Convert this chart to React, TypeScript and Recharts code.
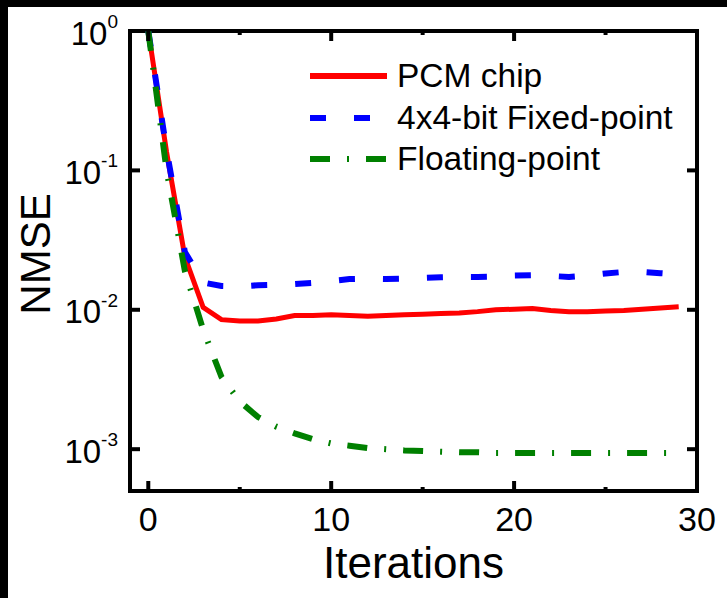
import { LineChart, Line, XAxis, YAxis, Legend, ReferenceArea } from 'recharts'

const FONT = '"Liberation Sans", Arial, Helvetica, sans-serif'

// Iteration index (x axis)
const iterations = [
  0, 1, 2, 3, 4, 5, 6, 7, 8, 9, 10, 11, 12, 13, 14,
  15, 16, 17, 18, 19, 20, 21, 22, 23, 24, 25, 26, 27, 28, 29,
]

// NMSE per iteration
const pcmChip = [
  1, 0.135, 0.024, 0.0104, 0.0085, 0.0083, 0.0083, 0.0086, 0.0091, 0.0091,
  0.0092, 0.0091, 0.009, 0.0091, 0.0092, 0.0093, 0.0094, 0.0095, 0.0097, 0.01,
  0.0101, 0.0102, 0.0099, 0.0097, 0.0097, 0.0098, 0.0099, 0.0101, 0.0103, 0.0105,
]
const fixedPoint = [
  1, 0.14, 0.026, 0.0157, 0.0148, 0.0147, 0.015, 0.0151, 0.0153, 0.0156,
  0.0161, 0.0166, 0.0167, 0.0166, 0.0167, 0.0169, 0.0171, 0.0172, 0.0172, 0.0173,
  0.0176, 0.0177, 0.0175, 0.0172, 0.0176, 0.0182, 0.0187, 0.0187, 0.0183, 0.0179,
]
const floatingPoint = [
  1, 0.1, 0.019, 0.0072, 0.0033, 0.0022, 0.0017, 0.00145, 0.0013, 0.00118,
  0.0011, 0.00106, 0.00102, 0.001, 0.00098, 0.00097, 0.00096, 0.00095, 0.00095, 0.00094,
  0.00094, 0.00094, 0.00094, 0.00094, 0.00094, 0.00094, 0.00094, 0.00094, 0.00094, 0.00094,
]

const xTicks = [0, 5, 10, 15, 20, 25, 30]
const yTicks = [1, 0.1, 0.01, 0.001]

const series = [
  { key: 'pcm', name: 'PCM chip', color: '#ff0000', width: 5, dash: undefined as string | undefined },
  { key: 'fixed', name: '4x4-bit Fixed-point', color: '#0000ff', width: 6, dash: '16 28' },
  { key: 'float', name: 'Floating-point', color: '#008000', width: 6, dash: '20 17 2 17' },
]

const data = iterations.map((it, i) => ({
  iter: it,
  pcm: pcmChip[i],
  fixed: fixedPoint[i],
  float: floatingPoint[i],
}))

const W = 719
const H = 591
const MARGIN = { top: 24, right: 30, left: 0, bottom: 0 }
const Y_AXIS_W = 122
const X_AXIS_H = 107
const PLOT_W = W - MARGIN.left - MARGIN.right - Y_AXIS_W
const PLOT_H = H - MARGIN.top - MARGIN.bottom - X_AXIS_H

function XTick({ x, y, payload }: any) {
  const v = payload.value
  const major = v % 10 === 0
  const len = major ? 10 : 4
  return (
    <g>
      <line x1={x} x2={x} y1={y} y2={y - len} stroke="#000" strokeWidth={4} />
      <line x1={x} x2={x} y1={y - PLOT_H} y2={y - PLOT_H + len} stroke="#000" strokeWidth={4} />
      {major && (
        <text x={x} y={y + 40} textAnchor="middle" fontFamily={FONT} fontSize={34} fill="#000">
          {v}
        </text>
      )}
    </g>
  )
}

function YTick({ x, y, payload }: any) {
  const exp = Math.round(Math.log10(payload.value))
  return (
    <g>
      <line x1={x} x2={x + 10} y1={y} y2={y} stroke="#000" strokeWidth={4} />
      <line x1={x + PLOT_W - 10} x2={x + PLOT_W} y1={y} y2={y} stroke="#000" strokeWidth={4} />
      <text x={x - 12} y={y + 13.5} textAnchor="end" fontFamily={FONT} fontSize={33} fill="#000">
        10
        <tspan dy={-16.5} fontSize={19}>
          {exp}
        </tspan>
      </text>
    </g>
  )
}

function XTitle(props: any) {
  const vb = props.viewBox || { x: Y_AXIS_W, y: MARGIN.top + PLOT_H, width: PLOT_W }
  return (
    <text x={vb.x + vb.width / 2} y={vb.y + 87} textAnchor="middle" fontFamily={FONT} fontSize={44} fill="#000">
      Iterations
    </text>
  )
}

function YTitle(props: any) {
  const vb = props.viewBox || { x: 0, y: MARGIN.top, height: PLOT_H }
  const cx = vb.x + 42
  const cy = vb.y + vb.height / 2 - 7
  return (
    <text
      x={cx}
      y={cy}
      transform={`rotate(-90 ${cx} ${cy})`}
      textAnchor="middle"
      fontFamily={FONT}
      fontSize={42}
      fill="#000"
    >
      NMSE
    </text>
  )
}

function LegendBox() {
  return (
    <div style={{ fontFamily: FONT, fontSize: 33.5, color: '#000' }}>
      {series.map((s) => (
        <div key={s.key} style={{ display: 'flex', alignItems: 'center', height: 41.7 }}>
          <svg width={77} height={42} style={{ display: 'block' }}>
            <line x1={0} x2={77} y1={21} y2={21} stroke={s.color} strokeWidth={6} strokeDasharray={s.dash} />
          </svg>
          <span style={{ marginLeft: 10, lineHeight: '42px', whiteSpace: 'nowrap' }}>{s.name}</span>
        </div>
      ))}
    </div>
  )
}

export default function App() {
  return (
    <div style={{ position: 'absolute', left: 0, top: 0, width: 727, height: 598, background: '#000' }}>
      <div style={{ position: 'absolute', left: 8, top: 7, width: W, height: H, background: '#fff' }}>
        <LineChart width={W} height={H} data={data} margin={MARGIN}>
          <XAxis
            dataKey="iter"
            type="number"
            domain={[-1, 30]}
            ticks={xTicks}
            interval={0}
            allowDataOverflow
            axisLine={false}
            tickLine={false}
            tickSize={0}
            tickMargin={0}
            height={X_AXIS_H}
            tick={(p: any) => <XTick {...p} />}
            label={(p: any) => <XTitle {...p} />}
          />
          <YAxis
            type="number"
            scale="log"
            domain={[Math.pow(10, -3.3), 1]}
            ticks={yTicks}
            interval={0}
            allowDataOverflow
            axisLine={false}
            tickLine={false}
            tickSize={0}
            tickMargin={0}
            width={Y_AXIS_W}
            tick={(p: any) => <YTick {...p} />}
            label={(p: any) => <YTitle {...p} />}
          />
          {series.map((s) => (
            <Line
              key={s.key}
              type="linear"
              dataKey={s.key}
              name={s.name}
              stroke={s.color}
              strokeWidth={s.width}
              strokeDasharray={s.dash}
              dot={false}
              activeDot={false}
              isAnimationActive={false}
            />
          ))}
          <ReferenceArea
            x1={-1}
            x2={30}
            y1={Math.pow(10, -3.3)}
            y2={1}
            fill="none"
            fillOpacity={0}
            stroke="#000"
            strokeWidth={4}
            ifOverflow="visible"
          />
          <Legend
            layout="vertical"
            align="center"
            verticalAlign="middle"
            content={() => <LegendBox />}
            wrapperStyle={{ left: 302, top: 48, right: 'auto', bottom: 'auto', width: 'auto', height: 'auto' }}
          />
        </LineChart>
      </div>
    </div>
  )
}
